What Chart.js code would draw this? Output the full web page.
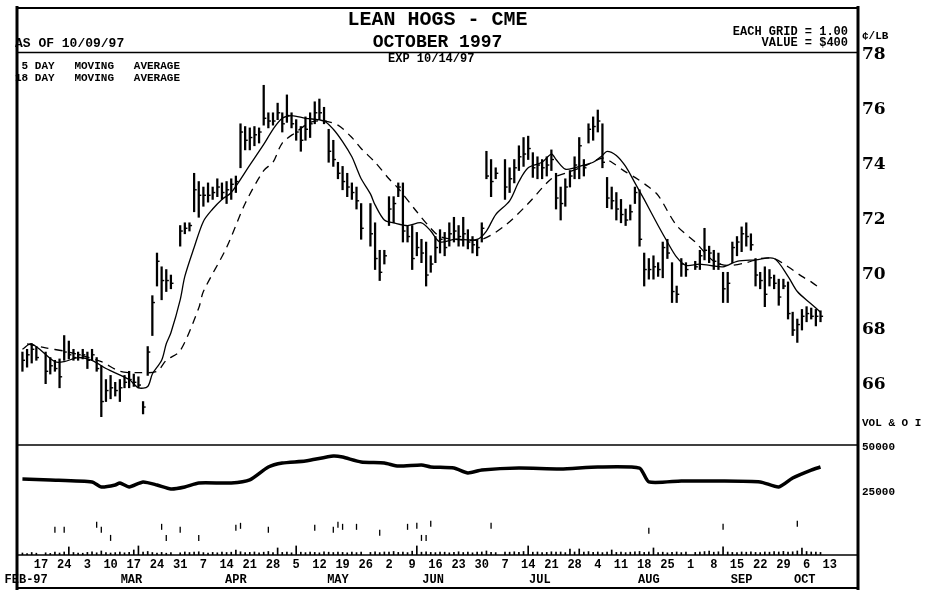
<!DOCTYPE html>
<html><head><meta charset="utf-8">
<script src="https://cdn.jsdelivr.net/npm/chart.js@4.4.1/dist/chart.umd.min.js"></script>
<style>html,body{margin:0;padding:0;background:#fff;}canvas{display:block;}</style>
</head><body>
<canvas id="c" width="932" height="590"></canvas>
<script>
// ---- tick labels ----
const weekLabels = ['17','24','3','10','17','24','31','7','14','21','28','5','12','19','26','2','9','16','23','30','7','14','21','28','4','11','18','25','1','8','15','22','29','6','13'];
const monthLabels = ['FEB-97','MAR','APR','MAY','JUN','JUL','AUG','SEP','OCT'];
const monthAnchorDay = [1.8, 24.5, 47, 69, 89.5, 112.5, 136, 156, 169.6];
const priceTicks = [66, 68, 70, 72, 74, 76, 78];
const volTicks = [25000, 50000];

// ---- daily series (weekday slots, Mon 10 Feb 1997 = 0; null = no trading) ----
const high = [
 null,67.2,67.3,67.5,67.4,null,67.2,67.0,66.9,66.95,
 67.8,67.6,67.3,67.2,67.3,67.2,67.3,67.0,66.7,66.2,
 66.35,66.1,66.2,66.35,66.5,66.4,66.3,65.4,67.4,69.25,
 70.8,70.3,70.2,70.0,null,71.8,71.9,71.9,73.7,73.4,
 73.2,73.35,73.2,73.5,73.35,73.4,73.5,73.6,75.5,75.4,
 75.35,75.4,75.35,76.9,75.9,75.9,76.25,75.9,76.55,75.9,
 75.65,75.4,75.75,75.9,76.3,76.4,76.1,75.3,74.9,74.1,
 73.95,73.7,73.35,73.2,72.6,null,72.6,71.9,70.9,70.9,
 72.85,72.85,73.35,73.35,71.8,71.8,71.55,71.3,71.2,70.7,
 71.4,71.65,71.55,71.9,72.1,71.8,72.1,71.65,71.4,71.3,
 71.9,74.5,74.2,73.9,null,74.2,73.9,74.2,74.7,75.0,
 75.05,74.45,74.3,74.2,74.3,74.55,73.7,73.2,73.5,73.8,
 74.3,75.0,74.2,75.5,75.75,76.0,75.5,73.55,73.2,73.0,
 72.75,72.4,72.55,73.2,73.1,70.8,70.6,70.7,70.45,71.2,
 71.3,70.45,69.6,70.6,70.45,null,70.5,70.9,71.7,71.05,
 70.9,70.8,70.1,70.1,71.2,71.4,71.75,71.9,71.5,70.6,
 70.1,70.3,70.2,70.0,69.85,69.85,69.75,68.65,68.4,68.75,
 68.85,68.8,68.75,68.7];
const low = [
 null,66.5,66.65,66.8,66.9,null,66.05,66.4,66.5,65.9,
 66.9,66.95,66.9,66.9,66.95,66.6,66.9,66.5,64.85,65.4,
 65.5,65.6,65.4,65.9,65.9,65.95,65.9,64.95,66.35,67.8,
 69.6,69.1,69.4,69.5,null,71.05,71.5,71.6,72.3,72.1,
 72.5,72.65,72.75,72.85,72.75,72.6,72.75,73.0,73.9,74.55,
 74.55,74.7,74.8,75.45,75.35,75.45,75.65,75.2,75.55,75.35,
 74.9,74.5,74.9,75.0,75.5,75.65,75.5,74.1,73.95,73.5,
 73.1,72.85,72.75,72.4,71.3,null,71.05,70.2,69.8,70.4,
 71.8,71.9,72.85,71.2,71.2,70.2,70.7,70.45,69.6,70.1,
 70.45,70.8,70.7,71.05,71.2,71.05,71.05,70.95,70.8,70.7,
 71.2,73.5,72.85,73.5,null,72.75,73.0,73.35,73.8,73.95,
 74.2,73.55,73.5,73.5,73.6,73.8,72.4,72.0,72.5,73.2,
 73.5,73.5,73.6,74.8,74.9,75.2,73.9,72.45,72.4,72.0,
 71.9,71.8,72.0,72.6,71.05,69.6,69.85,69.85,69.95,69.9,
 70.6,69.0,69.0,69.95,69.95,null,70.2,70.2,70.55,70.45,
 70.2,70.2,69.0,69.0,70.45,70.7,70.85,71.05,70.9,69.6,
 69.5,68.85,69.6,69.5,68.9,69.5,68.4,67.8,67.55,68.0,
 68.3,68.4,68.15,68.3];
const close = [
 null,66.9,67.1,67.3,67.0,null,66.5,66.7,66.6,66.3,
 67.2,67.1,67.0,67.1,67.1,66.9,67.1,66.6,65.4,65.8,
 65.9,65.8,65.9,66.1,66.2,66.1,66.0,65.2,67.2,69.0,
 70.5,69.8,69.8,69.7,null,71.6,71.7,71.8,73.1,72.9,
 72.9,72.9,73.0,73.2,73.0,73.1,73.3,73.4,75.2,74.9,
 75.0,75.1,75.2,75.7,75.6,75.6,75.9,75.5,75.8,75.5,
 75.2,74.9,75.3,75.5,75.9,75.9,75.6,74.5,74.2,73.7,
 73.4,73.2,73.0,72.7,71.7,null,71.5,70.6,70.1,70.7,
 72.4,72.6,73.2,71.6,71.4,70.6,71.0,70.8,70.0,70.4,
 71.0,71.3,71.0,71.5,71.6,71.4,71.5,71.2,71.1,71.0,
 71.7,73.6,73.4,73.7,null,73.2,73.5,73.9,74.3,74.4,
 74.6,73.9,74.0,73.9,74.0,74.2,72.8,72.6,73.2,73.6,
 74.0,74.7,73.9,75.3,75.4,75.6,74.1,72.8,72.7,72.4,
 72.2,72.0,72.3,73.0,71.3,70.2,70.2,70.3,70.2,71.0,
 70.8,69.4,69.3,70.4,70.2,null,70.3,70.7,70.9,70.8,
 70.5,70.4,69.5,69.7,71.0,71.2,71.5,71.4,71.1,70.0,
 69.8,69.3,69.9,69.7,69.2,69.6,68.6,68.0,68.2,68.5,
 68.6,68.5,68.5,68.5];
const volume = [
 null,2000,1500,2500,1800,null,2200,1600,2800,2000,
 3000,8000,2500,2000,1800,2600,3200,2200,4000,2500,
 2000,2400,3000,2200,2600,5000,9000,2800,3500,2500,
 2000,2600,1800,2400,null,2200,3000,2500,2800,3200,
 2400,2000,2600,2200,3000,2500,2800,5000,3200,2400,
 2600,3000,2200,2800,3500,2400,7000,2600,3000,2200,
 9000,2800,2400,3000,2600,2200,3200,2800,2500,3000,
 2600,2200,3000,2400,2800,null,2600,3200,2400,3000,
 2800,3500,2600,3000,2400,3800,9000,2800,3200,2600,
 2400,3000,2800,2200,2600,3200,2500,3000,2200,2800,
 3000,4000,2600,2400,null,3000,2800,3200,2600,3500,
 9000,2800,3000,2400,2600,3200,2800,3000,2400,6000,
 3000,6000,2800,3400,2600,3000,2400,2800,5000,2600,
 3000,2400,2800,3200,3500,2600,3000,7000,2400,2800,
 2200,2600,3000,2400,2800,null,2600,3000,3400,3800,
 2800,3200,8000,3000,2600,2400,3000,2800,3200,2600,
 2400,3000,2800,3400,3000,3600,2800,3200,4000,7000,
 3500,3000,2800,2600];

// ---- scattered volume marks in the lower panel (day slot, value) ----
const volMarkDay = [8,10,17,18,20,31,32,35,39,47,48,54,64,68,69,70,73,78,84,86,87,88,89,102,136,152,168];
const volMark = [25000,25000,30000,25000,17000,28000,17000,25000,17000,27000,29000,25000,27000,25000,30000,28000,28000,22000,28000,29000,17000,17000,31000,29000,24000,28000,31000];

// ---- moving averages and open interest, read at these day slots ----
const ma5Day = [1,3,8,10,13,16,19,24,26,28,29,31,32,33,35,36,38,40,42,44,46,50,53,55,57,59,62,66,68,70,72,73,74,76,77,79,81,84,87,89,91,94,99,101,103,106,108,110,113,115,116,118,120,122,124,126,127,129,131,133,135,138,140,142,144,147,152,155,159,163,166,168,171,173];
const ma5 = [67.3,67.5,66.85,66.85,67.0,66.9,66.6,66.2,65.9,65.95,66.4,66.9,67.5,67.9,69.1,69.95,71.0,71.95,72.4,72.75,73.0,74.0,74.75,75.3,75.7,75.8,75.7,75.6,75.3,74.85,74.3,73.9,73.5,72.95,72.55,72.0,71.9,71.8,71.9,71.6,71.2,71.3,71.3,71.6,72.2,72.7,73.4,73.9,74.1,74.4,74.2,73.85,73.9,74.0,74.1,74.35,74.5,74.35,73.95,73.35,72.75,71.8,71.2,70.65,70.35,70.4,70.3,70.5,70.55,70.6,69.95,69.4,68.95,68.65];
const ma18Day = [2,6,11,18,22,26,30,32,35,39,40,45,49,53,55,57,60,63,66,69,72,74,77,80,82,86,89,91,94,100,105,110,115,118,122,126,128,131,133,136,138,142,146,150,153,157,160,163,166,169,171,173];
const ma18 = [67.5,67.35,67.2,66.85,66.5,66.45,66.5,66.9,67.25,68.8,69.4,71.0,72.6,73.8,74.1,74.8,75.2,75.55,75.6,75.45,75.0,74.6,74.1,73.5,73.15,72.3,71.7,71.4,71.3,71.3,71.8,72.6,73.5,73.7,73.95,74.25,74.1,73.75,73.55,73.2,72.9,71.8,71.2,70.5,70.35,70.45,70.6,70.6,70.3,69.95,69.75,69.5];
const oiDay = [1,7,16,18,21,22,24,27,30,33,36,39,46,50,54,57,62,68,70,74,79,82,87,89,94,97,100,108,117,125,134,136,143,151,160,164,167,171,173];
const oi = [32200,31700,30600,27800,28900,30000,27800,30600,28900,26700,27800,30000,30000,31700,38900,41100,42200,45000,44400,41700,41100,39400,40000,38900,38300,35600,37200,38300,37800,38900,38300,30600,31100,31100,30600,27800,32800,37200,38900];

// ---- build datasets ----
const hlData = high.map((h, i) => (h == null ? null : {x: i, y: [low[i], h]})).filter(Boolean);
const closeData = close.map((c, i) => (c == null ? null : {x: i, y: c})).filter(Boolean);
const volData = volume.map((v, i) => (v == null ? null : {x: i, y: v})).filter(Boolean);
const pairs = (xs, ys) => xs.map((x, i) => ({x, y: ys[i]}));

const MONO = '"Liberation Mono", "DejaVu Sans Mono", monospace';
const xMin = -0.17, xMax = 181.08;

const framePlugin = {
  id: 'frame',
  beforeDraw(chart) {
    const ctx = chart.ctx;
    ctx.save(); ctx.fillStyle = '#fff'; ctx.fillRect(0, 0, chart.width, chart.height); ctx.restore();
  },
  afterDraw(chart) {
    const ctx = chart.ctx, a = chart.chartArea, yP = chart.scales.y;
    const L = a.left, R = a.right;
    ctx.save();
    ctx.strokeStyle = '#000';
    const line = (x1, y1, x2, y2, w) => { ctx.lineWidth = w; ctx.beginPath(); ctx.moveTo(x1, y1); ctx.lineTo(x2, y2); ctx.stroke(); };
    line(L, 8, R, 8, 2);
    line(L, 588, R, 588, 2);
    line(L, 6, L, 590, 3);
    line(R, 6, R, 590, 3);
    line(L, a.top + 0.5, R, a.top + 0.5, 1.5);
    line(L, yP.bottom, R, yP.bottom, 1.5);
    line(L, a.bottom, R, a.bottom, 1.5);
    ctx.fillStyle = '#000';
    ctx.textBaseline = 'middle';
    ctx.textAlign = 'left';
    ctx.font = 'bold 13px ' + MONO;
    ctx.fillText('AS OF 10/09/97', 15, 44);
    ctx.font = 'bold 12px ' + MONO;
    ctx.textAlign = 'right';
    ctx.fillText('EACH GRID = 1.00', 848, 32);
    ctx.fillText('VALUE = $400', 848, 43);
    ctx.textAlign = 'left';
    ctx.fillText('EXP 10/14/97', 388, 59);
    ctx.font = 'bold 11px ' + MONO;
    ctx.fillText(' 5 DAY   MOVING   AVERAGE', 15, 66);
    ctx.fillText('18 DAY   MOVING   AVERAGE', 15, 78);
    ctx.fillText('\u00A2/LB', 862, 36);
    ctx.fillText('VOL & O I', 862, 423);
    ctx.restore();
  }
};

new Chart(document.getElementById('c'), {
  type: 'bar',
  data: {
    datasets: [
      {type: 'bar', label: 'High-Low', data: hlData, xAxisID: 'x', yAxisID: 'y', backgroundColor: '#000', borderWidth: 0, barThickness: 1.6, grouped: false, order: 3},
      {type: 'line', label: 'Close', data: closeData, xAxisID: 'x', yAxisID: 'y', showLine: false, pointStyle: 'dash', pointRadius: 2.6, pointBorderWidth: 1.4, pointBorderColor: '#000', pointBackgroundColor: '#000', order: 2},
      {type: 'line', label: '5 DAY MOVING AVERAGE', data: pairs(ma5Day, ma5), xAxisID: 'x', yAxisID: 'y', borderColor: '#000', borderWidth: 1.3, pointRadius: 0, tension: 0.3, order: 1},
      {type: 'line', label: '18 DAY MOVING AVERAGE', data: pairs(ma18Day, ma18), xAxisID: 'x', yAxisID: 'y', borderColor: '#000', borderWidth: 1.3, borderDash: [8, 6], pointRadius: 0, tension: 0.3, order: 1},
      {type: 'line', label: 'Open Interest', data: pairs(oiDay, oi), xAxisID: 'x', yAxisID: 'yv', borderColor: '#000', borderWidth: 3.5, pointRadius: 0, tension: 0.2, order: 1},
      {type: 'bar', label: 'Volume', data: volData, xAxisID: 'x', yAxisID: 'yh', backgroundColor: '#000', borderWidth: 0, barThickness: 1, grouped: false, order: 3},
      {type: 'line', label: 'Volume marks', data: pairs(volMarkDay, volMark), xAxisID: 'x', yAxisID: 'yh', showLine: false, pointStyle: 'line', pointRotation: 90, pointRadius: 3, pointBorderWidth: 1.3, pointBorderColor: '#000', order: 2}
    ]
  },
  options: {
    responsive: false,
    animation: false,
    devicePixelRatio: 1,
    layout: {padding: {left: 17, top: 0, right: 0, bottom: 2}},
    plugins: {
      legend: {display: false},
      tooltip: {enabled: false},
      title: {display: true, text: 'LEAN HOGS - CME', fullSize: false, color: '#000',
        font: {family: MONO, size: 20, weight: 'bold', lineHeight: 1.2}, padding: {top: 8, bottom: 0}},
      subtitle: {display: true, text: 'OCTOBER 1997', fullSize: false, color: '#000',
        font: {family: MONO, size: 18, weight: 'bold', lineHeight: 1.111}, padding: {top: 0, bottom: 0}}
    },
    scales: {
      x: {
        type: 'linear', position: 'bottom', min: xMin, max: xMax, weight: 0, offset: false, bounds: 'data',
        afterBuildTicks: (ax) => { ax.ticks = weekLabels.map((_, k) => ({value: 5 * (k + 1)})); },
        afterFit: (ax) => { ax.height = 18; },
        ticks: {autoSkip: false, maxRotation: 0, minRotation: 0, padding: 3, color: '#000',
          font: {family: MONO, size: 12, weight: 'bold'}, callback: (v, i) => weekLabels[i]},
        grid: {display: false, drawTicks: false, offset: false}, border: {display: false}
      },
      x2: {
        type: 'linear', position: 'bottom', min: xMin, max: xMax, weight: 1, offset: false, bounds: 'data',
        afterBuildTicks: (ax) => { ax.ticks = monthAnchorDay.map(v => ({value: v})); },
        afterFit: (ax) => { ax.height = 15; },
        ticks: {autoSkip: false, maxRotation: 0, minRotation: 0, padding: 0, color: '#000',
          font: {family: MONO, size: 12, weight: 'bold'}, callback: (v, i) => monthLabels[i]},
        grid: {display: false, drawTicks: false, offset: false}, border: {display: false}
      },
      y: {
        type: 'linear', position: 'right', stack: 'panels', stackWeight: 393, min: 63.82, max: 78.11,
        afterBuildTicks: (ax) => { ax.ticks = priceTicks.map(v => ({value: v})); },
        afterFit: (ax) => { ax.width = 74; },
        ticks: {padding: 4, color: '#000', font: {family: '"DejaVu Serif", serif', size: 17, weight: 'bold'}, callback: (v) => String(v)},
        grid: {display: false, drawTicks: false}, border: {display: false}
      },
      yv: {
        type: 'linear', position: 'right', stack: 'panels', stackWeight: 110, min: -10000, max: 51111,
        afterBuildTicks: (ax) => { ax.ticks = volTicks.map(v => ({value: v})); },
        afterFit: (ax) => { ax.width = 74; },
        ticks: {padding: 4, color: '#000', font: {family: MONO, size: 11, weight: 'bold'}, callback: (v) => String(v)},
        grid: {display: false, drawTicks: false}, border: {display: false}
      },
      yh: {type: 'linear', display: false, min: 0, max: 500000}
    }
  },
  plugins: [framePlugin]
});
</script>
</body></html>
